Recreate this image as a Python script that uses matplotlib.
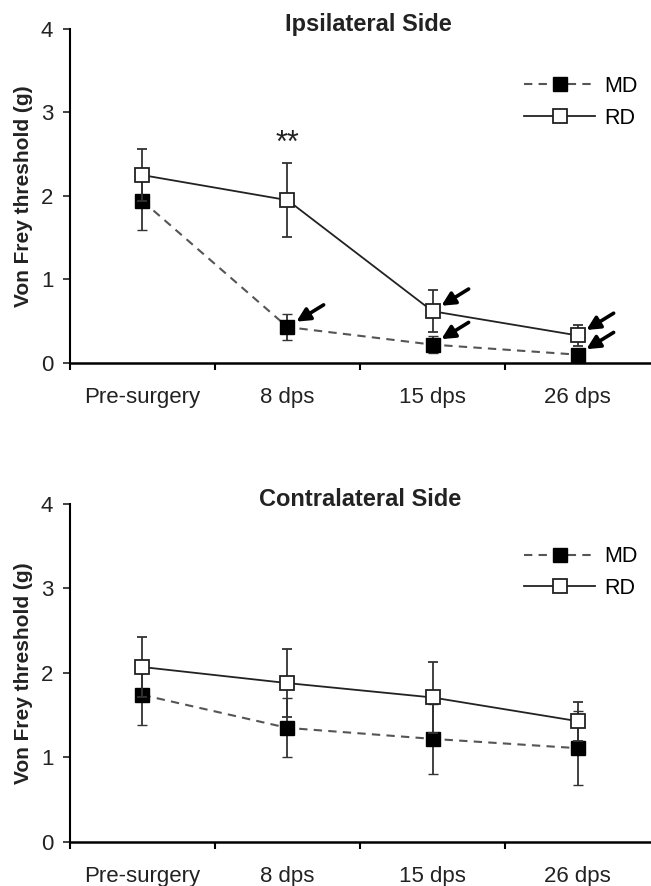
import matplotlib
matplotlib.use("Agg")
import matplotlib.pyplot as plt
from matplotlib.lines import Line2D

plt.rcParams['font.family'] = ['Liberation Sans', 'DejaVu Sans']

categories = ["Pre-surgery", "8 dps", "15 dps", "26 dps"]

# ipsilateral side
ipsi_md = [1.94, 0.43, 0.22, 0.10]
ipsi_md_err = [0.35, 0.16, 0.10, 0.05]
ipsi_rd = [2.25, 1.95, 0.62, 0.33]
ipsi_rd_err = [0.31, 0.44, 0.25, 0.13]
ipsi_md_arrow = [False, True, True, True]
ipsi_rd_arrow = [False, False, True, True]

# contralateral side
contra_md = [1.74, 1.35, 1.22, 1.11]
contra_md_err = [0.35, 0.35, 0.41, 0.44]
contra_rd = [2.07, 1.88, 1.71, 1.43]
contra_rd_err = [0.36, 0.40, 0.42, 0.23]

md_style = dict(color='#555555', ls=(0, (4, 3)), lw=1.5, marker='s', ms=10.5,
                mfc='black', mec='black', mew=1)
rd_style = dict(color='#222222', ls='-', lw=1.3, marker='s', ms=10,
                mfc='white', mec='#222222', mew=1.3)

fig = plt.figure(figsize=(6.51, 8.86), dpi=100)
ax1 = fig.add_axes([0.1075, 0.5903, 0.8910, 0.3770])
ax2 = fig.add_axes([0.1075, 0.0497, 0.8910, 0.3815])


def draw(ax, md, md_err, rd, rd_err, title, title_x, leg_y):
    x = list(range(len(categories)))
    ax.errorbar(x, md, yerr=md_err, ecolor='#333333', elinewidth=1.3,
                capsize=3.8, capthick=1.3, zorder=3, **md_style)
    ax.errorbar(x, rd, yerr=rd_err, ecolor='#333333', elinewidth=1.3,
                capsize=3.8, capthick=1.3, zorder=4, **rd_style)
    ax.set_xlim(-0.5, 3.5)
    ax.set_ylim(0, 4)
    ax.spines['top'].set_visible(False)
    ax.spines['right'].set_visible(False)
    ax.spines['left'].set_linewidth(1.5)
    ax.spines['bottom'].set_linewidth(1.8)
    ax.set_yticks([0, 1, 2, 3, 4])
    ax.tick_params(axis='y', direction='out', length=5, width=1.2,
                   labelsize=16, pad=7, colors='#222222')
    ax.set_xticks([-0.5, 0.5, 1.5, 2.5])
    ax.set_xticklabels([])
    ax.tick_params(axis='x', which='major', direction='out', length=5, width=1.5)
    ax.set_xticks(x, minor=True)
    ax.set_xticklabels(categories, minor=True, fontsize=16, color='#222222')
    ax.tick_params(axis='x', which='minor', length=0, pad=17)
    ax.set_ylabel("Von Frey threshold (g)", fontsize=15, fontweight='bold',
                  color='#222222')
    ax.yaxis.set_label_coords(-0.064, 0.5)
    ax.text(title_x, 1.012, title, transform=ax.transAxes, ha='center',
            va='center', fontsize=17, fontweight='bold', color='#222222')
    handles = [Line2D([], [], **md_style), Line2D([], [], **rd_style)]
    ax.legend(handles, ['MD', 'RD'], loc='center left',
              bbox_to_anchor=(0.783, leg_y), frameon=False, fontsize=15.5,
              handlelength=3.3, handletextpad=0.4, labelspacing=0.5,
              borderaxespad=0, borderpad=0)


draw(ax1, ipsi_md, ipsi_md_err, ipsi_rd, ipsi_rd_err, "Ipsilateral Side", 0.515, 0.781)
draw(ax2, contra_md, contra_md_err, contra_rd, contra_rd_err,
     "Contralateral Side", 0.5, 0.797)

# significance marker
ax1.text(1, 2.62, "**", ha='center', va='center', fontsize=22, color='#222222')

# arrows for changes vs. baseline
arrow_style = dict(arrowstyle='-|>', color='black', lw=2.6,
                   mutation_scale=20, shrinkA=0, shrinkB=7.5)
for vals, flags in [(ipsi_md, ipsi_md_arrow), (ipsi_rd, ipsi_rd_arrow)]:
    for i, (v, f) in enumerate(zip(vals, flags)):
        if f:
            ax1.annotate("", xy=(i, v), xytext=(26, 16), textcoords='offset points',
                         arrowprops=arrow_style, zorder=5)

fig.savefig("out.png", dpi=100)
